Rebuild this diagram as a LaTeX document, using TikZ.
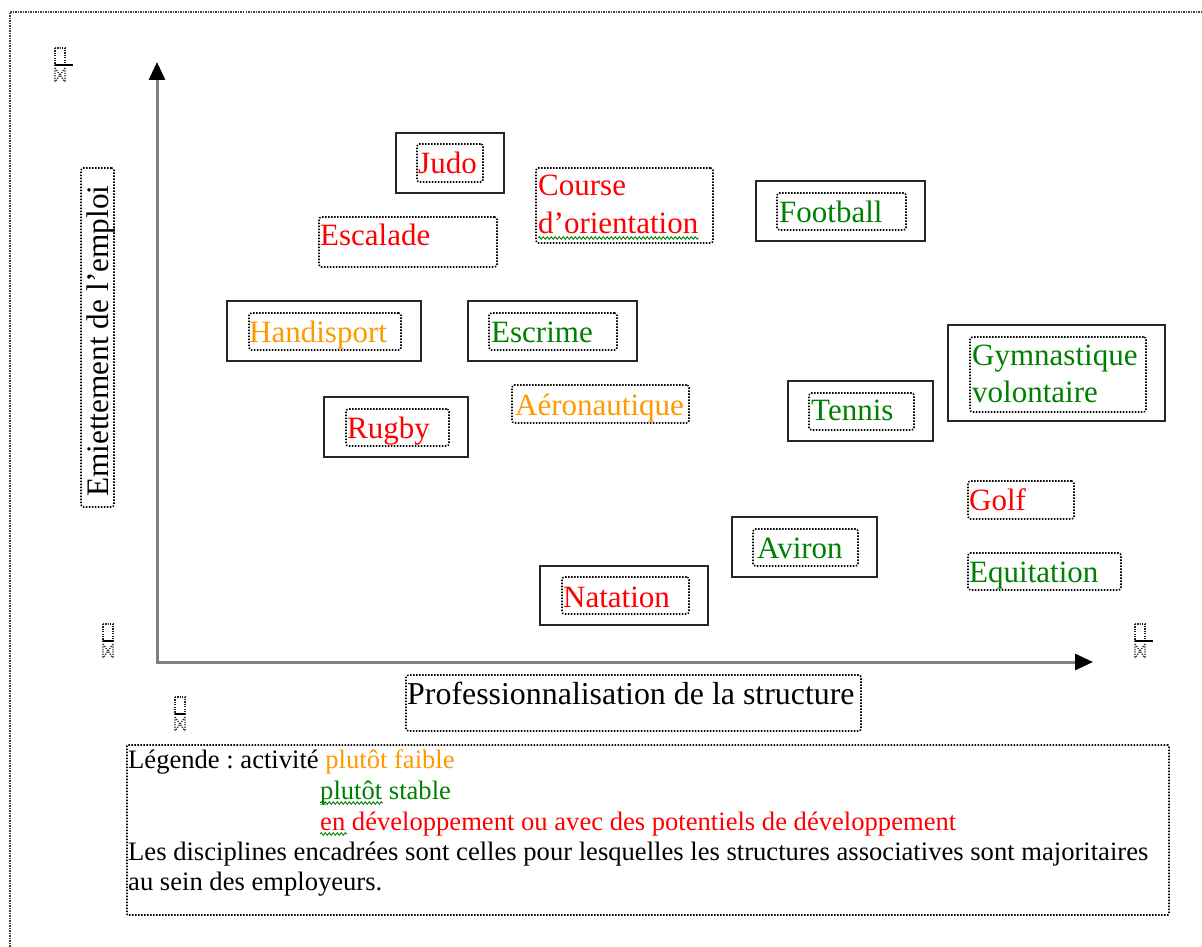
\documentclass[tikz,border=0pt]{standalone}
\usepackage{fontspec}
\setmainfont{Liberation Serif}
\usetikzlibrary{arrows.meta,fit,decorations.pathmorphing}
\definecolor{cred}{RGB}{255,0,0}
\definecolor{corange}{RGB}{255,153,0}
\definecolor{cgreen}{RGB}{0,128,0}
\definecolor{caxis}{RGB}{128,128,128}
\newcommand\boxfont{\fontsize{31}{37}\selectfont}
\newcommand\legfont{\fontsize{26.6}{31}\selectfont}
\frenchspacing
\tikzset{
  solidbox/.style={draw=black!85, line width=2pt, inner sep=0pt},
  dotbox/.style={draw=black, line width=1.6pt, dash pattern=on 1.5pt off 1.5pt, rounded corners=2.5pt, inner sep=0pt},
  lbl/.style={anchor=base west, inner sep=0pt, font=\boxfont},
  leg/.style={anchor=base west, inner sep=0pt, font=\legfont},
  axisline/.style={draw=caxis, line width=3pt, line join=miter,
    {Triangle[length=18pt,width=16pt,color=black]}-{Triangle[length=18pt,width=16pt,color=black]}},
  wavy/.style={draw=cgreen, line width=0.9pt, decorate, decoration={snake, amplitude=1.3pt, segment length=4pt}},
  outerframe/.style={draw=black!75, line width=2.8pt, dash pattern=on 1.5pt off 1pt},
  icondot/.style={draw=black!85, line width=1.2pt, dash pattern=on 1.2pt off 1.2pt},
  pics/anchoricon/.style={code={
    \draw[icondot] (0,0) rectangle (10,17);
    \draw[line width=1.5pt] (0,17) -- (#1,17);
    \draw[icondot] (0,20) -- (10,34) (10,20) -- (0,34) (0,20) -- (0,34) (10,20) -- (10,34);
  }}
}
\begin{document}
\begin{tikzpicture}[x=1pt,y=-1pt]
\useasboundingbox (0,0) rectangle (1202,947);
\fill[white] (0,0) rectangle (1202,947);
% outer frame (only top and left edges visible)
\coordinate (frTR) at (1202,12);
\coordinate (frTL) at (10,12);
\coordinate (frBL) at (10,947);
\draw[outerframe] (frTR) -- (frTL) -- (frBL);

% anchor icons
\pic (ic1) at (55,48) {anchoricon=18};
\pic (ic2) at (103,624) {anchoricon=10};
\pic (ic3) at (175,697) {anchoricon=10};
\pic (ic4) at (1135,624) {anchoricon=18};

% axes
\coordinate (O) at (157,662);
\coordinate (ytip) at (157,62);
\coordinate (xtip) at (1093,662);
\draw[axisline] (ytip) -- (O) -- (xtip);

% axis labels
\node[dotbox, fit={(81,168) (114,507)}] (ylabbox) {};
\node[lbl, rotate=90, text=black, font=\fontsize{31.3}{37}\selectfont] (ylab) at (108,497) {Emiettement de l’emploi};
\node[dotbox, fit={(406,675) (861,731)}] (xlabbox) {};
\node[lbl, text=black, font=\fontsize{31.9}{38}\selectfont] (xlab) at (407,704) {Professionnalisation de la structure};

% Judo
\node[solidbox, fit={(396,133) (504,193)}] (judoS) {};
\node[dotbox, fit={(417,144) (483,182)}] (judoD) {};
\node[lbl, text=cred] (judo) at (418,173) {Judo};
% Course d'orientation
\node[dotbox, fit={(536,168) (713,243)}] (courseD) {};
\node[lbl, text=cred] (course1) at (538,195) {Course};
\node[lbl, text=cred] (course2) at (538,233) {d’orientation};
\draw[wavy] ([yshift=-5pt]course2.base west) -- ([yshift=-5pt]course2.base east);
% Escalade
\node[dotbox, fit={(319,217) (497,267)}] (escD) {};
\node[lbl, text=cred] (escalade) at (320,245) {Escalade};
% Football
\node[solidbox, fit={(756,181) (925,241)}] (footS) {};
\node[dotbox, fit={(777,193) (906,230)}] (footD) {};
\node[lbl, text=cgreen] (foot) at (779,222) {Football};
% Handisport
\node[solidbox, fit={(227,301) (421,361)}] (handS) {};
\node[dotbox, fit={(249,313) (401,350)}] (handD) {};
\node[lbl, text=corange] (hand) at (249,342) {Handisport};
% Escrime
\node[solidbox, fit={(468,301) (637,361)}] (escrS) {};
\node[dotbox, fit={(489,313) (617,350)}] (escrD) {};
\node[lbl, text=cgreen] (escr) at (491,342) {Escrime};
% Gymnastique volontaire
\node[solidbox, fit={(948,325) (1165,421)}] (gymS) {};
\node[dotbox, fit={(970,337) (1146,412)}] (gymD) {};
\node[lbl, text=cgreen] (gym1) at (972,365) {Gymnastique};
\node[lbl, text=cgreen] (gym2) at (972,402) {volontaire};
% Aeronautique
\node[dotbox, fit={(512,385) (689,423)}] (aeroD) {};
\node[lbl, text=corange] (aero) at (515,415) {Aéronautique};
% Tennis
\node[solidbox, fit={(788,381) (933,441)}] (tenS) {};
\node[dotbox, fit={(809,393) (914,430)}] (tenD) {};
\node[lbl, text=cgreen] (tennis) at (811,420) {Tennis};
% Rugby
\node[solidbox, fit={(324,397) (468,457)}] (rugS) {};
\node[dotbox, fit={(346,409) (449,446)}] (rugD) {};
\node[lbl, text=cred] (rugby) at (347,438) {Rugby};
% Golf
\node[dotbox, fit={(968,481) (1074,519)}] (golfD) {};
\node[lbl, text=cred] (golf) at (969,510) {Golf};
% Aviron
\node[solidbox, fit={(732,517) (877,577)}] (avS) {};
\node[dotbox, fit={(753,529) (858,566)}] (avD) {};
\node[lbl, text=cgreen] (aviron) at (757,558) {Aviron};
% Equitation
\node[dotbox, fit={(968,553) (1121,590)}] (equD) {};
\node[lbl, text=cgreen] (equi) at (969,582) {Equitation};
% Natation
\node[solidbox, fit={(540,566) (708,625)}] (natS) {};
\node[dotbox, fit={(562,577) (689,614)}] (natD) {};
\node[lbl, text=cred] (natation) at (563,607) {Natation};

% legend
\node[dotbox, rounded corners=1pt, fit={(127,745) (1169,915)}] (legbox) {};
\node[leg] (leg1) at (128,768) {Légende : activité \textcolor{corange}{plutôt faible}};
\node[leg, text=cgreen] (leg2) at (320,799) {plutôt stable};
\node[leg, text=cred] (leg3) at (320,830) {en développement ou avec des potentiels de développement};
\node[leg] (leg4) at (128,860) {Les disciplines encadrées sont celles pour lesquelles les structures associatives sont majoritaires};
\node[leg] (leg5) at (128,890) {au sein des employeurs.};
\coordinate (w2a) at ([yshift=-4pt]leg2.base west);
\coordinate (w2b) at ([xshift=63pt,yshift=-4pt]leg2.base west);
\draw[wavy] (w2a) -- (w2b);
\coordinate (w3a) at ([yshift=-4pt]leg3.base west);
\coordinate (w3b) at ([xshift=27pt,yshift=-4pt]leg3.base west);
\draw[wavy] (w3a) -- (w3b);
\end{tikzpicture}
\end{document}
